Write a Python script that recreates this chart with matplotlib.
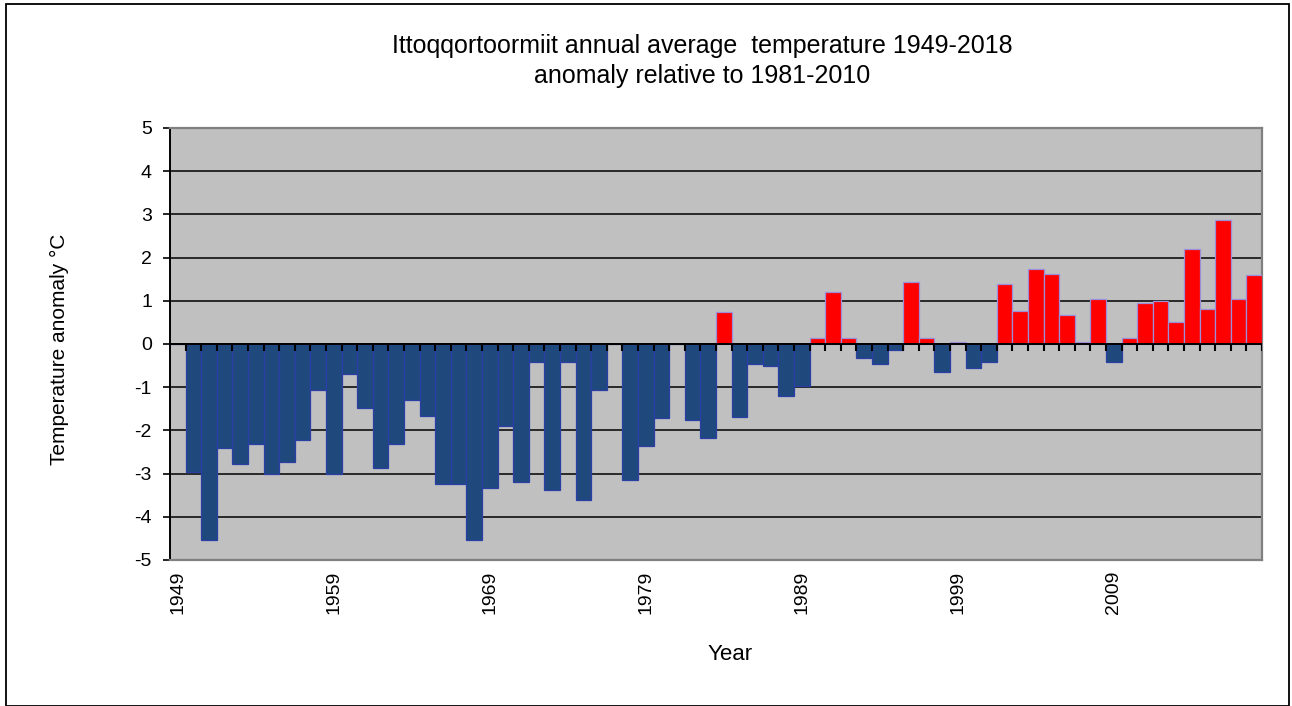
import numpy as np
import matplotlib
matplotlib.use("Agg")
import matplotlib.pyplot as plt
from matplotlib.patches import Rectangle

plt.rcParams['font.family'] = ['Liberation Sans', 'DejaVu Sans']

years = list(range(1949, 2019))
anomaly = [
    np.nan, -2.96, -4.54, -2.41, -2.77, -2.32, -3.00, -2.74, -2.22, -1.07,
    -3.00, -0.70, -1.48, -2.87, -2.32, -1.30, -1.67, -3.25, -3.25, -4.54,
    -3.33, -1.90, -3.19, -0.41, -3.38, -0.41, -3.62, -1.07, np.nan, -3.15,
    -2.36, -1.71, np.nan, -1.76, -2.17, 0.74, -1.68, -0.47, -0.52, -1.21,
    -0.98, 0.13, 1.20, 0.13, -0.33, -0.47, -0.14, 1.43, 0.13, -0.65,
    0.04, -0.55, -0.42, 1.40, 0.76, 1.73, 1.63, 0.66, 0.05, 1.04,
    -0.42, 0.14, 0.94, 0.99, 0.52, 2.19, 0.80, 2.86, 1.04, 1.59,
]
xtick_labels = ['1949', '1959', '1969', '1979', '1989', '1999', '2009']
yticks = [-5, -4, -3, -2, -1, 0, 1, 2, 3, 4, 5]

W, H = 1292, 706
fig = plt.figure(figsize=(W / 100, H / 100), dpi=100)
fig.patch.set_facecolor('white')

ax = fig.add_axes([170 / W, 1 - 560 / H, (1262 - 170) / W, (560 - 128) / H])
ax.set_facecolor('#C0C0C0')

x = np.arange(len(years))
vals = np.array(anomaly, dtype=float)
colors = ['#FF0000' if (not np.isnan(v) and v > 0) else '#1F497D' for v in vals]
edges = ['#9A8FD8' if (not np.isnan(v) and v > 0) else '#2A3FA6' for v in vals]
ax.bar(x, np.nan_to_num(vals), width=1.0, color=colors, edgecolor=edges,
       linewidth=0.9, zorder=3)

ax.set_xlim(-0.5, len(years) - 0.5)
ax.set_ylim(-5, 5)

# gridlines
ax.set_yticks(yticks)
ax.yaxis.grid(True, color='black', linewidth=1.1, zorder=1)
ax.set_axisbelow(True)

# zero line with category tick marks
ax.axhline(0, color='black', linewidth=1.4, zorder=4)
boundaries = np.arange(0.5, len(years), 1.0)
ax.vlines(boundaries, 0, -7 / 43.2, color='black', linewidth=1.5, zorder=4)

# x labels
label_pos = [years.index(int(s)) for s in xtick_labels]
ax.set_xticks(label_pos)
ax.set_xticklabels(xtick_labels, rotation=90, fontsize=14, va='top')
ax.tick_params(axis='x', length=0, pad=8)

ax.set_yticklabels([str(t) for t in yticks], fontsize=14)
ax.tick_params(axis='y', direction='out', length=5, width=1.2, color='black', pad=8)

for s in ['top', 'right', 'bottom']:
    ax.spines[s].set_color('#808080')
    ax.spines[s].set_linewidth(1.6)
ax.spines['left'].set_color('black')
ax.spines['left'].set_linewidth(1.4)

fig.text(702 / W, 1 - 61 / H,
         'Ittoqqortoormiit annual average  temperature 1949-2018\nanomaly relative to 1981-2010',
         ha='center', va='center', fontsize=18, linespacing=1.32)
fig.text(59 / W, 1 - 349 / H, 'Temperature anomaly °C', rotation=90,
         ha='center', va='center', fontsize=15)
fig.text(730 / W, 1 - 655 / H, 'Year', ha='center', va='center', fontsize=16)

# outer chart border
fig.add_artist(Rectangle((6 / W, 0), (1289 - 6) / W, 1 - 4 / H,
                         transform=fig.transFigure, fill=False,
                         edgecolor='black', linewidth=1.3))

fig.savefig('out.png', dpi=100)
